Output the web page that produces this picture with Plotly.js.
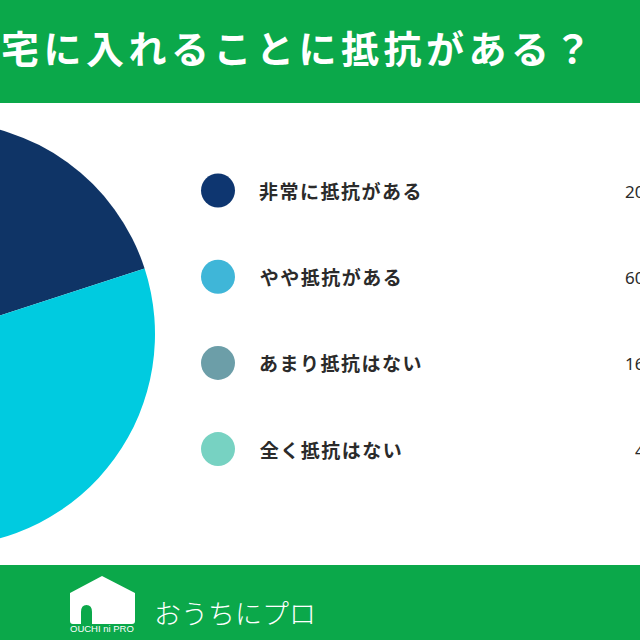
<!DOCTYPE html>
<html lang="ja">
<head>
<meta charset="utf-8">
<title>抵抗がある？</title>
<script src="https://cdn.plot.ly/plotly-3.0.1.min.js"></script>
<style>
    html, body { margin: 0; padding: 0; width: 640px; height: 640px; overflow: hidden; background: #fff; }
    /* the chart is a crop of a wider board, so the div sticks out of the window */
    #board { position: absolute; left: -300px; top: 0; width: 1040px; height: 640px; }
    #board .gtitle { letter-spacing: 4.5px; }
    #board .annotation[data-index="0"] text, #board .annotation[data-index="1"] text,
    #board .annotation[data-index="2"] text, #board .annotation[data-index="3"] text { letter-spacing: 1.5px; }
</style>
</head>
<body>
<div id="board"></div>
<script>
var titleText = '宅に入れることに抵抗がある？';
var categories = ['非常に抵抗がある', 'やや抵抗がある', 'あまり抵抗はない', '全く抵抗はない'];
var percents = [20, 60, 16, 4];
var legendColors = ['#0e3670', '#3fb6d8', '#6c9ea8', '#77d2c2'];
var sliceColors = ['#0f3466', '#00cbe0', '#6c9ea8', '#77d2c2'];
var brandName = 'おうちにプロ';
var brandTag = 'OUCHI ni PRO';

var GREEN = '#0ba84a';
var FONT = '"Noto Sans CJK JP", "Noto Sans", sans-serif';

// board pixels: page x + 300, axes below use page pixels directly
var boardW = 1040, boardH = 640, offsetX = 300;
var pieCx = -57, pieCy = 334, pieR = 212;
var rowTop = 190.5, rowStep = 86.2;

var rows = categories.map(function(c, i) { return rowTop + i * rowStep; });

var pieTrace = {
    type: 'pie',
    labels: categories,
    values: percents,
    sort: false,
    direction: 'clockwise',
    rotation: 0,
    textinfo: 'none',
    showlegend: false,
    hole: 0,
    marker: { colors: sliceColors, line: { width: 0 } },
    domain: {
        x: [(pieCx - pieR + offsetX) / boardW, (pieCx + pieR + offsetX) / boardW],
        y: [(boardH - pieCy - pieR) / boardH, (boardH - pieCy + pieR) / boardH]
    }
};

var dotTrace = {
    type: 'scatter',
    mode: 'markers',
    x: categories.map(function() { return 218; }),
    y: rows,
    text: categories,
    hoverinfo: 'text',
    showlegend: false,
    marker: { size: 34, color: legendColors, line: { width: 0 } }
};

var annotations = categories.map(function(c, i) {
    return {
        x: 263, y: rows[i], xref: 'x', yref: 'y', xanchor: 'left', yanchor: 'middle',
        text: c, showarrow: false,
        font: { family: FONT, size: 19, weight: 700, color: '#2b2b2b' }
    };
});

percents.forEach(function(p, i) {
    annotations.push({
        x: 661, y: rows[i] + 1, xref: 'x', yref: 'y', xanchor: 'right', yanchor: 'middle',
        text: p + '%', showarrow: false,
        font: { family: '"Noto Sans", sans-serif', size: 17, color: '#2b2b2b' }
    });
});

annotations.push({
    x: 152, y: 612, xref: 'x', yref: 'y', xanchor: 'left', yanchor: 'middle',
    text: brandName, showarrow: false,
    font: { family: FONT, size: 27, weight: 300, color: '#fff' }
});
annotations.push({
    x: 102, y: 628, xref: 'x', yref: 'y', xanchor: 'center', yanchor: 'middle',
    text: brandTag, showarrow: false,
    font: { family: '"Liberation Sans", sans-serif', size: 9.5, color: '#fff' }
});

var layout = {
    width: boardW,
    height: boardH,
    margin: { l: 0, r: 0, t: 0, b: 0 },
    paper_bgcolor: '#fff',
    plot_bgcolor: '#fff',
    showlegend: false,
    title: {
        text: titleText,
        font: { family: FONT, size: 38, weight: 700, color: '#fff' },
        x: (1 + offsetX) / boardW, xref: 'paper', xanchor: 'left',
        y: 1 - 50 / boardH, yref: 'container', yanchor: 'middle'
    },
    xaxis: { range: [-offsetX, boardW - offsetX], visible: false, fixedrange: true },
    yaxis: { range: [boardH, 0], visible: false, fixedrange: true },
    annotations: annotations,
    shapes: [
        { type: 'rect', xref: 'x', yref: 'y', x0: -offsetX, x1: boardW, y0: 0, y1: 103, fillcolor: GREEN, line: { width: 0 }, layer: 'below' },
        { type: 'rect', xref: 'x', yref: 'y', x0: -offsetX, x1: boardW, y0: 565, y1: 640, fillcolor: GREEN, line: { width: 0 }, layer: 'below' },
        // house logo
        { type: 'path', xref: 'x', yref: 'y', layer: 'below', fillcolor: '#fff', line: { width: 0 },
          path: 'M 70 593 L 102 576 L 135 593 L 135 621 Q 135 624 132 624 L 92 624 L 92 612 Q 92 605 86.5 605 Q 81 605 81 612 L 81 624 L 73 624 Q 70 624 70 621 Z' }
    ],
    hovermode: 'closest'
};

Plotly.newPlot('board', [pieTrace, dotTrace], layout, { displayModeBar: false, responsive: false });
</script>
</body>
</html>
